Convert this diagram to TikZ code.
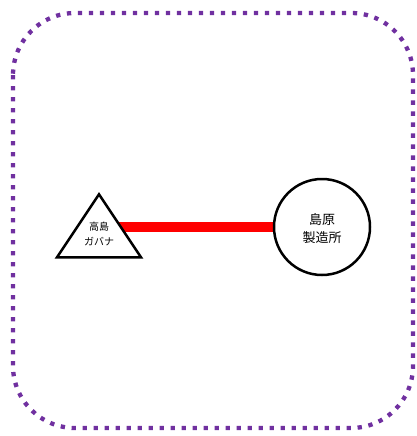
\documentclass[tikz,border=0pt]{standalone}
\usepackage{fontspec}
\newfontfamily\cjk{Noto Sans CJK JP}
\usetikzlibrary{shapes.geometric,backgrounds}
\definecolor{borderpurple}{HTML}{7030A0}
\begin{document}
\begin{tikzpicture}[x=1pt,y=-1pt,
  frame/.style={draw=borderpurple, line width=4.3pt, dash pattern=on 4.3pt off 6.7pt, rounded corners=62pt},
  tribox/.style={draw, line width=2.5pt, fill=white, isosceles triangle, shape border rotate=90,
     isosceles triangle stretches, minimum width=84pt, minimum height=63pt, inner sep=0pt},
  circbox/.style={draw, line width=2.5pt, fill=white, circle, minimum size=96pt, inner sep=0pt},
  link/.style={draw=red, line width=10pt}
]
\useasboundingbox (0,0) rectangle (416,436);
\draw[frame] (13,13) rectangle (413,428);
\node[tribox, anchor=apex] (tri) at (99,191) {};
\node[circbox] (circ) at (322,227) {};
\node[font=\cjk\fontsize{10}{15}\selectfont, align=center] (trilabel) at (99,234) {高島\\ガバナ};
\node[font=\cjk\fontsize{13}{18}\selectfont, align=center] (circlabel) at (322,229) {島原\\製造所};
\begin{scope}[on background layer]
\draw[link] (tri.center |- circ.west) -- (circ.west);
\end{scope}
\end{tikzpicture}
\end{document}
